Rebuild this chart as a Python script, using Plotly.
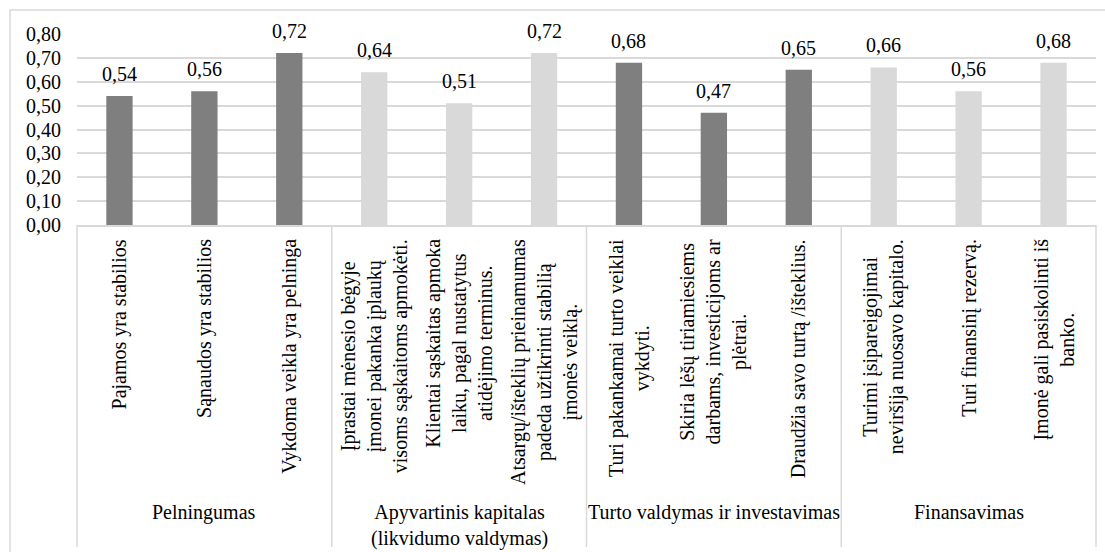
import plotly.graph_objects as go

# Category labels (one per bar) and the group each belongs to
categories = [
    "Pajamos yra stabilios",
    "Sąnaudos yra stabilios",
    "Vykdoma veikla yra pelninga",
    "Įprastai mėnesio bėgyje<br>įmonei pakanka įplaukų<br>visoms sąskaitoms apmokėti.",
    "Klientai sąskaitas apmoka<br>laiku, pagal nustatytus<br>atidėjimo terminus.",
    "Atsargų/išteklių prieinamumas<br>padeda užtikrinti stabilią<br>įmonės veiklą.",
    "Turi pakankamai turto veiklai<br>vykdyti.",
    "Skiria lėšų tiriamiesiems<br>darbams, investicijoms ar<br>plėtrai.",
    "Draudžia savo turtą /išteklius.",
    "Turimi įsipareigojimai<br>neviršija nuosavo kapitalo.",
    "Turi finansinį rezervą.",
    "Įmonė gali pasiskolinti iš<br>banko.",
]
values = [0.54, 0.56, 0.72, 0.64, 0.51, 0.72, 0.68, 0.47, 0.65, 0.66, 0.56, 0.68]

groups = [
    "Pelningumas",
    "Apyvartinis kapitalas<br>(likvidumo valdymas)",
    "Turto valdymas ir investavimas",
    "Finansavimas",
]
group_sizes = [3, 3, 3, 3]

y_ticks = [0.0, 0.1, 0.2, 0.3, 0.4, 0.5, 0.6, 0.7, 0.8]

DARK = "#7f7f7f"
LIGHT = "#d9d9d9"
GRID = "#d9d9d9"
FONT = "Times New Roman, DejaVu Serif, serif"

# Page geometry (pixels)
W, H = 1105, 552
PL, PR, PT, PB = 77, 1096, 34, 225

# alternate dark / light colouring by group
colors = []
for gi, n in enumerate(group_sizes):
    colors += [DARK if gi % 2 == 0 else LIGHT] * n

x = list(range(len(values)))

fig = go.Figure(
    go.Bar(
        x=x,
        y=values,
        marker=dict(color=colors, line=dict(width=0)),
        hoverinfo="skip",
    )
)

annotations = []

# value labels above bars
for xi, v in zip(x, values):
    annotations.append(dict(
        x=xi, y=v, xref="x", yref="y",
        text=f"{v:.2f}".replace(".", ","),
        showarrow=False, yanchor="bottom", xanchor="center",
        yshift=9, font=dict(family=FONT, size=20, color="#000"),
    ))

# rotated category labels under the axis
for xi, label in zip(x, categories):
    annotations.append(dict(
        x=xi, y=0, xref="x", yref="paper",
        text=label, textangle=-90, align="center",
        showarrow=False, yanchor="top", xanchor="center",
        yshift=-12, font=dict(family=FONT, size=20, color="#000"),
    ))

# group labels and separators
shapes = []
n_cat = len(values)
start = 0
pw, ph = PR - PL, PB - PT
sep_bottom = (PB - 547) / ph
for gname, n in zip(groups, group_sizes):
    center = start + (n - 1) / 2
    annotations.append(dict(
        x=center, y=0, xref="x", yref="paper",
        text=gname, align="center",
        showarrow=False, yanchor="top", xanchor="center",
        yshift=-274, font=dict(family=FONT, size=20, color="#000"),
    ))
    start += n

bounds = [0]
for n in group_sizes:
    bounds.append(bounds[-1] + n)
for b in bounds:
    xp = b / n_cat
    shapes.append(dict(
        type="line", xref="paper", yref="paper",
        x0=xp, x1=xp, y0=0, y1=sep_bottom,
        line=dict(color=GRID, width=1.5),
    ))

# chart frame
shapes.append(dict(
    type="rect", xref="paper", yref="paper",
    x0=(10 - PL) / pw, x1=(W + 20 - PL) / pw,
    y0=(PB - (H + 20)) / ph, y1=(PB - 10) / ph,
    line=dict(color=GRID, width=1.5), fillcolor="rgba(0,0,0,0)",
    layer="below",
))

fig.update_layout(
    width=W, height=H,
    margin=dict(l=PL, r=W - PR, t=PT, b=H - PB, pad=0),
    paper_bgcolor="white", plot_bgcolor="white",
    separators=", ",
    bargap=0.69,
    showlegend=False,
    font=dict(family=FONT, size=20, color="#000"),
    xaxis=dict(
        range=[-0.5, n_cat - 0.5],
        showticklabels=False, ticks="",
        showgrid=False, zeroline=False,
        showline=True, linecolor=GRID, linewidth=1.5,
        fixedrange=True,
    ),
    yaxis=dict(
        range=[0, 0.8],
        tickvals=y_ticks, tickformat=".2f",
        showgrid=True, gridcolor=GRID, gridwidth=1.5,
        zeroline=False, showline=False, ticks="",
        ticklabelstandoff=15,
        tickfont=dict(family=FONT, size=20, color="#000"),
        fixedrange=True,
    ),
    annotations=annotations,
    shapes=shapes,
)

fig.write_html("out.html")
